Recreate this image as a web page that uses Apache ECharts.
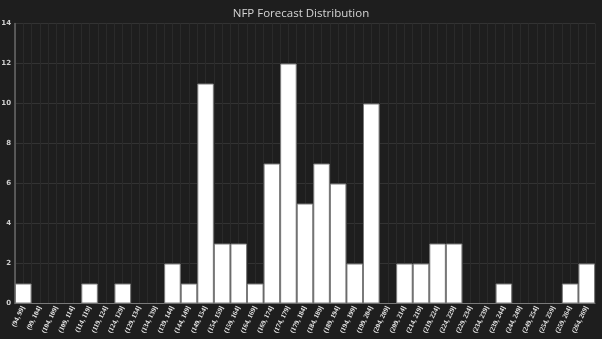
<!DOCTYPE html>
<html>
<head>
<meta charset="utf-8">
<script src="https://cdn.jsdelivr.net/npm/echarts@6/dist/echarts.min.js"></script>
<style>
  html, body { margin: 0; padding: 0; background: #1e1e1e; }
  #chart { width: 602px; height: 339px; }
</style>
</head>
<body>
<div id="chart"></div>
<script>
// Histogram bins of NFP forecasts (thousands), 5k wide
const binLabels = [
  '(94, 99]', '(99, 104]', '(104, 109]', '(109, 114]', '(114, 119]',
  '(119, 124]', '(124, 129]', '(129, 134]', '(134, 139]', '(139, 144]',
  '(144, 149]', '(149, 154]', '(154, 159]', '(159, 164]', '(164, 169]',
  '(169, 174]', '(174, 179]', '(179, 184]', '(184, 189]', '(189, 194]',
  '(194, 199]', '(199, 204]', '(204, 209]', '(209, 214]', '(214, 219]',
  '(219, 224]', '(224, 229]', '(229, 234]', '(234, 239]', '(239, 244]',
  '(244, 249]', '(249, 254]', '(254, 259]', '(259, 264]', '(264, 269]'
];
const forecastCounts = [
  1, 0, 0, 0, 1,
  0, 1, 0, 0, 2,
  1, 11, 3, 3, 1,
  7, 12, 5, 7, 6,
  2, 10, 0, 2, 2,
  3, 3, 0, 0, 1,
  0, 0, 0, 1, 2
];
const yTicks = { min: 0, max: 14, step: 2 };

// half-bin guide slots for the finer vertical grid
const halfSlots = [];
binLabels.forEach(function (b) { halfSlots.push(b + 'a', b + 'b'); });

const chart = echarts.init(document.getElementById('chart'));
chart.setOption({
  backgroundColor: '#1e1e1e',
  animation: false,
  title: {
    text: 'NFP Forecast Distribution',
    left: 'center',
    top: 3,
    textStyle: {
      color: '#d4d4d4',
      fontSize: 11.5,
      fontWeight: 'normal',
      fontFamily: 'Open Sans'
    }
  },
  grid: { left: 15, right: 7, top: 23.5, bottom: 35.5, outerBoundsMode: 'none', containLabel: false },
  xAxis: [
    {
      type: 'category',
      data: binLabels,
      axisLine: { lineStyle: { color: '#6a6a6a', width: 1 } },
      axisTick: { show: false },
      splitLine: { show: false },
      axisLabel: {
        interval: 0,
        rotate: 64,
        color: '#e8e8e8',
        fontSize: 7,
        fontWeight: 'bold',
        fontFamily: 'Liberation Sans Narrow',
        margin: 3
      }
    },
    {
      type: 'category',
      data: halfSlots,
      position: 'bottom',
      boundaryGap: true,
      axisLine: { show: false },
      axisTick: { show: false },
      axisLabel: { show: false },
      splitLine: { show: true, interval: 0, lineStyle: { color: '#2a2a2a', width: 1 } }
    }
  ],
  yAxis: {
    type: 'value',
    min: yTicks.min,
    max: yTicks.max,
    interval: yTicks.step,
    axisLine: { show: true, lineStyle: { color: '#6a6a6a', width: 1.5 } },
    axisTick: { show: false },
    splitLine: { lineStyle: { color: '#333333', width: 1 } },
    axisLabel: {
      color: '#d0d0d0',
      fontSize: 7,
      fontWeight: 'bold',
      fontFamily: 'DejaVu Sans',
      margin: 4
    }
  },
  series: [{
    type: 'bar',
    xAxisIndex: 0,
    data: forecastCounts,
    barCategoryGap: '0%',
    itemStyle: {
      color: '#ffffff',
      borderColor: '#7a7a7a',
      borderWidth: 1
    }
  }]
});
</script>
</body>
</html>
